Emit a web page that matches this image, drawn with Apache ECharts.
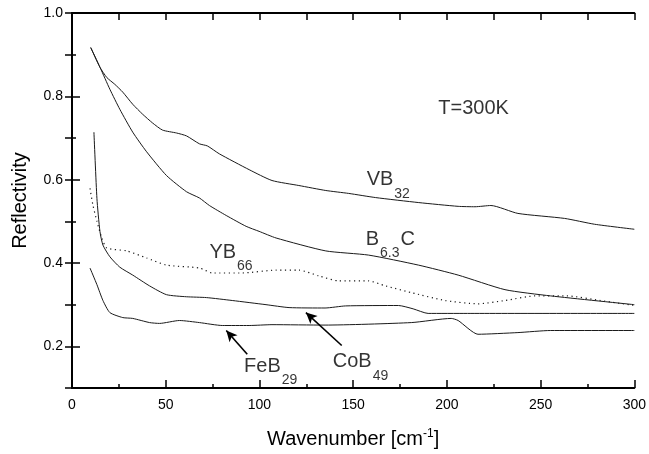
<!DOCTYPE html>
<html>
<head>
<meta charset="utf-8">
<script src="https://cdn.jsdelivr.net/npm/echarts@6/dist/echarts.min.js"></script>
<style>
  html, body { margin: 0; padding: 0; background: #fff; }
  #chart { width: 649px; height: 454px; }
</style>
</head>
<body>
<div id="chart"></div>
<script>
// Far-infrared reflectivity of boron-rich borides at room temperature
// Each series: [wavenumber (cm-1), reflectivity]
const vb32 = [[10,0.917],[15,0.869],[18.6,0.845],[22.8,0.829],[27.1,0.810],[32.4,0.781],[37.7,0.757],[43,0.736],[48.3,0.719],[55.8,0.712],[61.1,0.705],[68,0.686],[72.2,0.681],[78.6,0.662],[94.5,0.624],[106.7,0.598],[121,0.586],[135.4,0.574],[147.6,0.567],[162,0.557],[185,0.545],[206,0.536],[215,0.535],[223.5,0.538],[237.9,0.519],[262.8,0.507],[278.8,0.493],[300,0.481]];
const b63c = [[10,0.917],[15,0.869],[20.2,0.817],[25.5,0.769],[32.4,0.714],[39.8,0.667],[50.4,0.610],[61.1,0.571],[68,0.556],[73.3,0.538],[82.3,0.514],[92.9,0.488],[99.8,0.476],[108.9,0.460],[135.4,0.429],[158.2,0.419],[184.8,0.395],[206,0.371],[231,0.336],[255.4,0.321],[300,0.300]];
const yb66 = [[9.6,0.579],[11.2,0.538],[13.3,0.500],[15.9,0.460],[18.6,0.436],[29.2,0.429],[39.8,0.412],[50.4,0.395],[68,0.388],[74.9,0.376],[90.8,0.376],[108.9,0.383],[121,0.383],[131.7,0.369],[142.3,0.357],[158.2,0.357],[167.3,0.345],[181,0.329],[199,0.310],[216.6,0.302],[231,0.310],[247,0.321],[264,0.321],[282,0.310],[300,0.298]];
const cob49 = [[11.7,0.714],[13.3,0.555],[14.9,0.476],[16.5,0.443],[20.2,0.415],[25.5,0.390],[32.4,0.371],[41.4,0.345],[50.4,0.324],[61,0.319],[71.7,0.317],[85.5,0.310],[103.5,0.300],[115.8,0.293],[135,0.292],[146,0.297],[174.2,0.298],[182,0.290],[190,0.279],[211,0.279],[300,0.279]];
const feb29 = [[9.6,0.388],[13.3,0.348],[16.5,0.310],[20.2,0.281],[27.1,0.269],[32.4,0.267],[41.4,0.257],[46.7,0.255],[57.3,0.262],[68,0.257],[80.2,0.250],[94.5,0.250],[106.7,0.252],[135,0.251],[181,0.257],[202.3,0.267],[206,0.262],[216.6,0.229],[237.9,0.233],[255.4,0.238],[300,0.238]];

// Tick values shown on the axes
const xTickLabels = [0, 50, 100, 150, 200, 250, 300];
const yTickLabels = [0.2, 0.4, 0.6, 0.8, 1.0];

// Curve labels (rich text) and the point each one hangs from, in data units
const notes = [
  { text: '{m|VB}{s|32}', at: [157.2, 0.624] },
  { text: '{m|B}{s|6.3}{m|C}', at: [156.7, 0.481] },
  { text: '{m|YB}{s|66}', at: [73.3, 0.450] },
  { text: '{m|FeB}{s|29}', at: [91.8, 0.176] },
  { text: '{m|CoB}{s|49}', at: [139.1, 0.187] },
  { text: '{m|T=300K}', at: [195.4, 0.795] }
];
// Pointer arrows: [tail, head]
const arrows = [
  [[93.5, 0.181], [82.3, 0.238]],
  [[143.9, 0.202], [124.8, 0.281]]
];

const FONT = 'Liberation Sans, Arial, sans-serif';
const INK = '#1a1a1a';

const chart = echarts.init(document.getElementById('chart'));

const curve = (name, data, dotted) => ({
  name, type: 'line', data,
  xAxisIndex: 0, yAxisIndex: 0,
  showSymbol: false, symbol: 'none', smooth: 0.2,
  lineStyle: dotted
    ? { color: INK, width: 1.2, type: [1.2, 3.5] }
    : { color: INK, width: 1 },
  silent: true, z: 3
});

chart.setOption({
  animation: false,
  backgroundColor: '#fff',
  textStyle: { fontFamily: FONT },
  grid: { left: 72, right: 12, top: 13, bottom: 63, containLabel: false },
  xAxis: [
    {
      type: 'value', position: 'bottom', min: 0, max: 300, interval: 50,
      name: '{a|Wavenumber [cm}{s|-1}{a|]}', nameLocation: 'middle', nameGap: 40,
      nameTextStyle: { rich: {
        a: { fontSize: 20, fontFamily: FONT, color: '#000' },
        s: { fontSize: 12, fontFamily: FONT, color: '#000', padding: [0, 0, 10, 0] }
      } },
      axisLine: { show: true, lineStyle: { color: '#000', width: 2 } },
      axisTick: { show: true, inside: true, length: 8, lineStyle: { color: '#000', width: 1.5 } },
      minorTick: { show: true, splitNumber: 2, length: 4, lineStyle: { color: '#000', width: 1.5 } },
      axisLabel: { show: true, margin: 10, fontSize: 14, color: '#000', fontFamily: FONT,
        customValues: xTickLabels, formatter: v => String(v) },
      splitLine: { show: false }
    },
    {
      type: 'value', position: 'top', min: 0, max: 300, interval: 25,
      axisLine: { show: true, lineStyle: { color: '#000', width: 2 } },
      axisTick: { show: true, inside: true, length: 7, lineStyle: { color: '#000', width: 1.5 } },
      axisLabel: { show: false }, splitLine: { show: false }
    }
  ],
  yAxis: [
    {
      type: 'value', position: 'left', min: 0.1, max: 1.0, interval: 0.1,
      name: 'Reflectivity', nameLocation: 'middle', nameGap: 42,
      nameTextStyle: { fontSize: 20, color: '#000', fontFamily: FONT },
      axisLine: { show: true, lineStyle: { color: '#000', width: 2 } },
      axisTick: { show: true, inside: true, length: 8, customValues: yTickLabels,
        lineStyle: { color: '#000', width: 1.5 } },
      axisLabel: { show: true, margin: 9, fontSize: 14, color: '#000', fontFamily: FONT,
        customValues: yTickLabels, formatter: v => v.toFixed(1) },
      splitLine: { show: false }
    },
    {
      type: 'value', position: 'right', min: 0.1, max: 1.0, interval: 0.1,
      axisLine: { show: true, lineStyle: { color: '#000', width: 2 } },
      axisTick: { show: true, inside: true, length: 7, lineStyle: { color: '#000', width: 1.5 } },
      axisLabel: { show: false }, splitLine: { show: false }
    },
    {
      // short ticks between the labelled ones on the left edge
      type: 'value', position: 'left', min: 0.1, max: 1.0, interval: 0.1,
      axisLine: { show: false },
      axisTick: { show: true, inside: true, length: 4, lineStyle: { color: '#000', width: 1.5 } },
      axisLabel: { show: false }, splitLine: { show: false }
    }
  ],
  series: [
    curve('VB32', vb32, false),
    curve('B6.3C', b63c, false),
    curve('YB66', yb66, true),
    curve('CoB49', cob49, false),
    curve('FeB29', feb29, false),
    {
      name: 'labels', type: 'scatter', xAxisIndex: 0, yAxisIndex: 0,
      symbolSize: 0, silent: true, z: 5,
      data: notes.map(n => ({ value: n.at, label: { formatter: n.text } })),
      label: {
        show: true, position: [0, 0], align: 'left', verticalAlign: 'top',
        color: '#000', fontFamily: FONT,
        rich: {
          m: { fontSize: 20, lineHeight: 22, fontFamily: FONT, color: '#000', verticalAlign: 'top' },
          s: { fontSize: 14, lineHeight: 14, fontFamily: FONT, color: '#000', verticalAlign: 'top', padding: [17, 1, 0, 1] }
        }
      },
      markLine: {
        silent: true, animation: false,
        symbol: ['none', 'arrow'], symbolSize: [8, 11],
        label: { show: false },
        lineStyle: { color: '#000', width: 1.6, type: 'solid' },
        data: arrows.map(a => [{ coord: a[0] }, { coord: a[1] }])
      }
    }
  ]
});
</script>
</body>
</html>
